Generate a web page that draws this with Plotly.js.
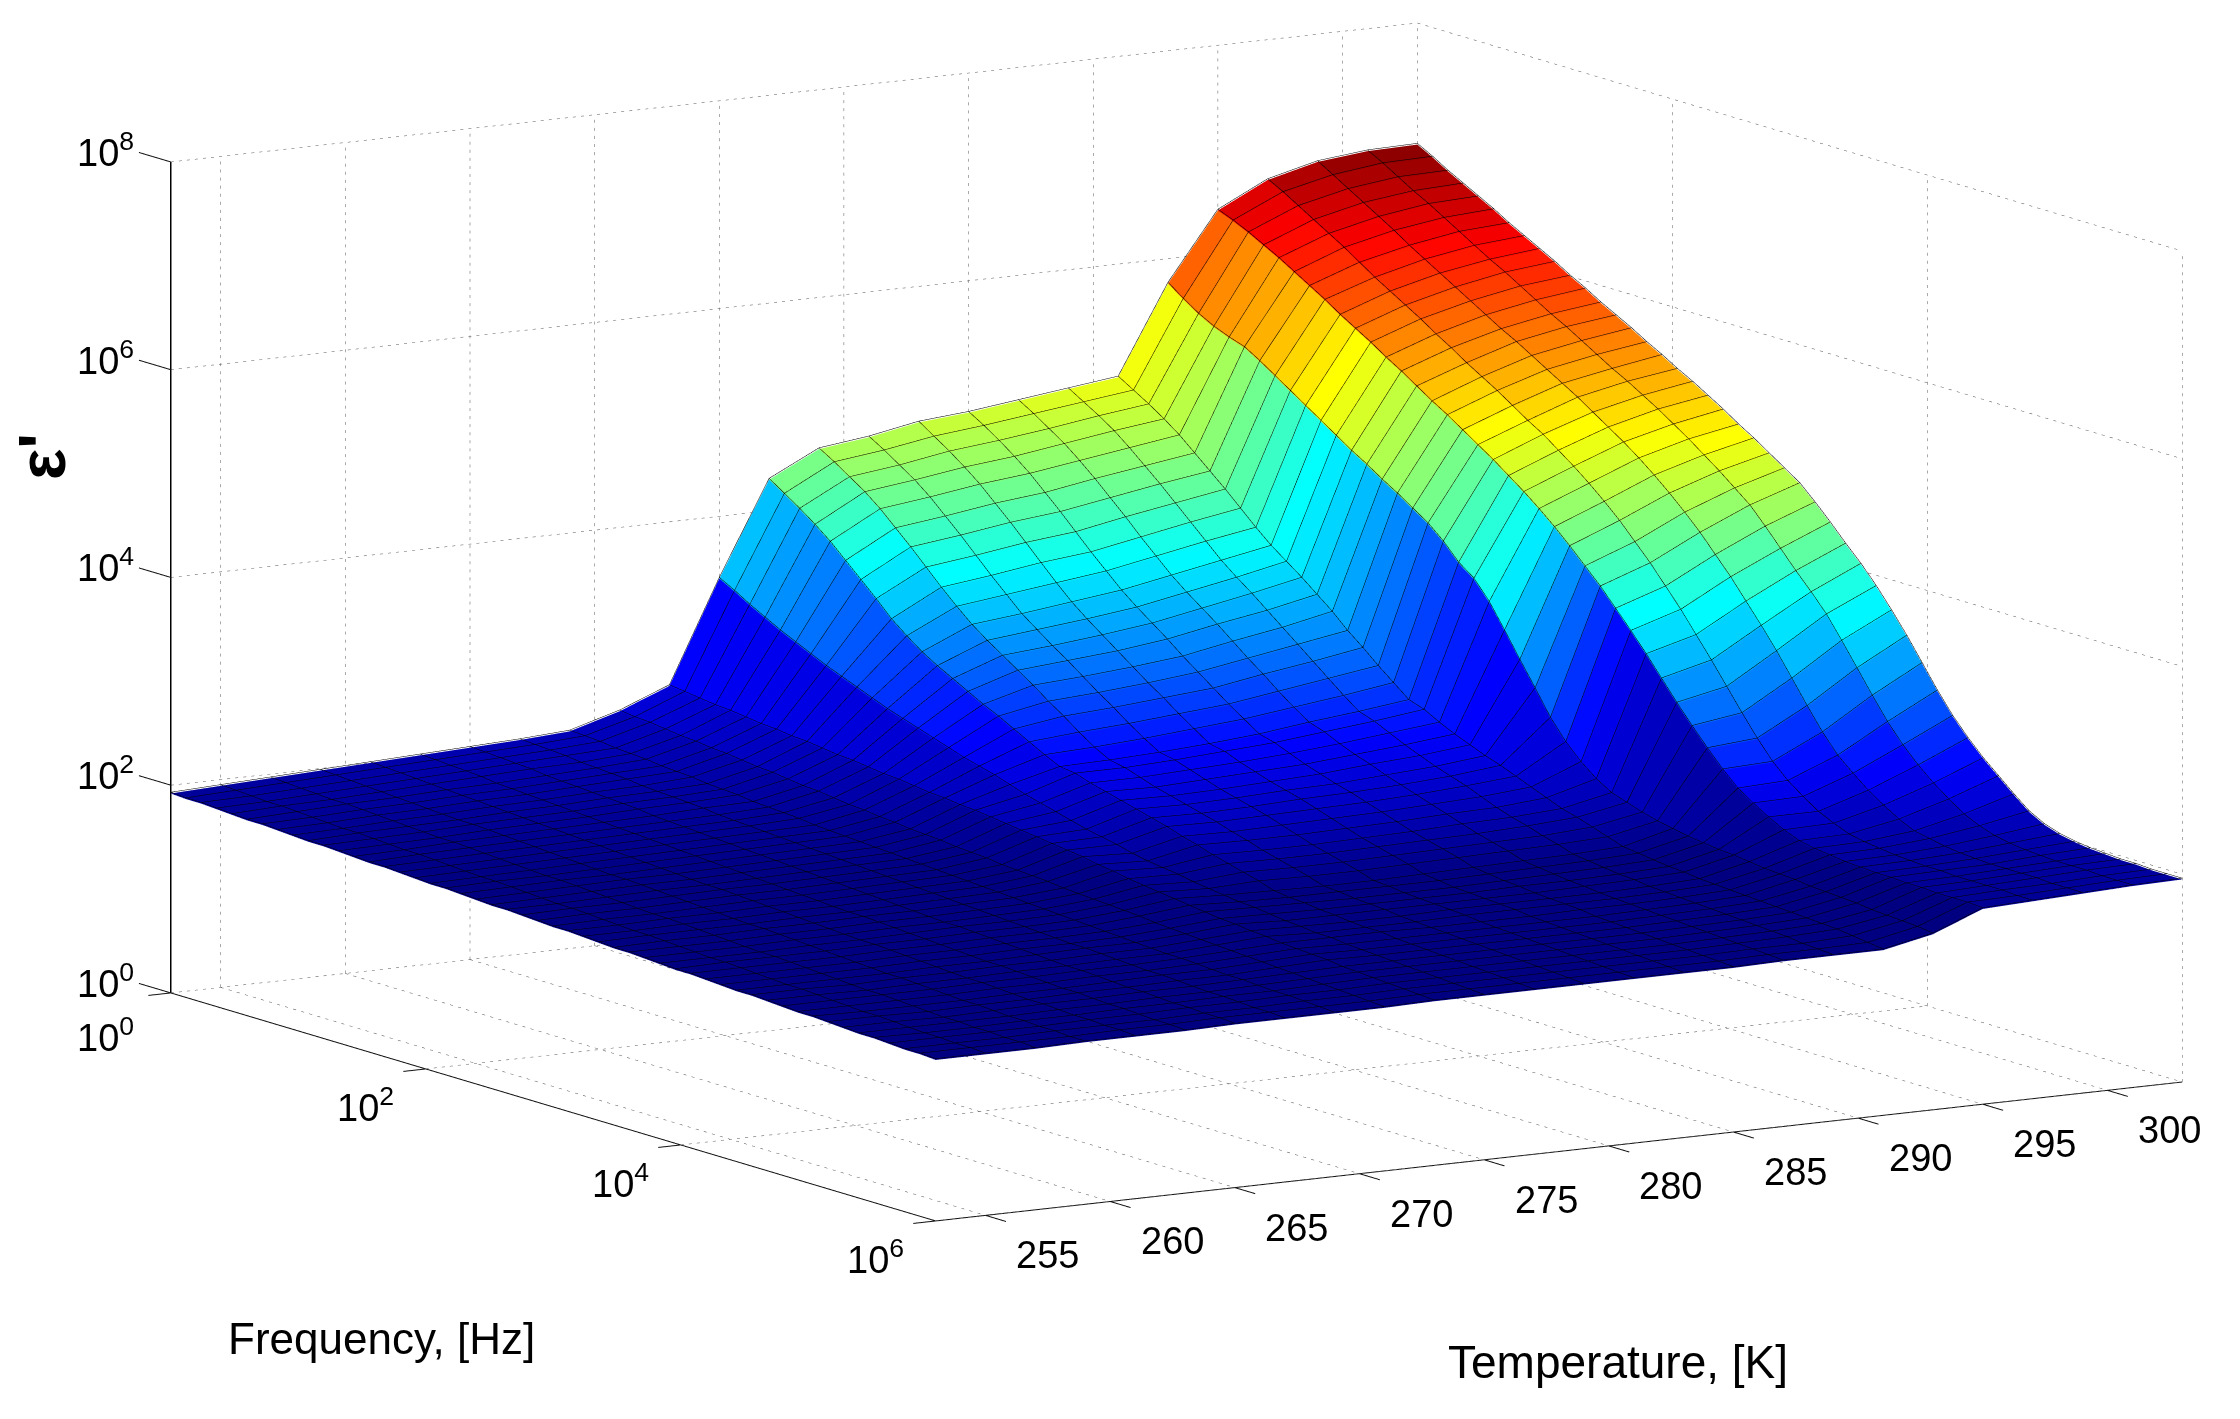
<!DOCTYPE html>
<html><head><meta charset="utf-8">
<script src="https://cdn.plot.ly/plotly-3.0.1.min.js"></script>
<style>html,body{margin:0;padding:0;background:#fff}#g{width:2240px;height:1419px}</style>
</head><body><div id="g"></div>
<script>
const temps=[253,255,257,259,261,263,265,267,269,271,273,275,277,279,281,283,285,287,289,291,293,295,297,299,301,303];
// log10 of frequency of each measured row
const logF=[0,.12,.24,.36,.48,.6,.72,.84,.96,1.08,1.2,1.32,1.44,1.56,1.68,1.8,1.92,2.04,2.16,2.28,2.4,2.52,2.64,2.76,2.88,3,3.12,3.24,3.36,3.48,3.6,3.72,3.84,3.96,4.08,4.2,4.32,4.44,4.56,4.68,4.8,4.92,5.04,5.16,5.28,5.4,5.52,5.64,5.76,5.88,6];
const tTicks=[255,260,265,270,275,280,285,290,295,300];
const fTicks=[0,2,4,6];
const zTicks=[0,2,4,6,8];
// log10 of epsilon' per temperature, one value per logF row
const z253=[1.92,1.91,1.91,1.90,1.89,1.88,1.88,1.87,1.86,1.85,1.85,1.84,1.83,1.82,1.82,1.81,1.80,1.79,1.79,1.78,1.77,1.76,1.76,1.75,1.74,1.73,1.73,1.72,1.71,1.70,1.70,1.69,1.68,1.67,1.67,1.66,1.65,1.64,1.64,1.63,1.62,1.61,1.61,1.60,1.59,1.58,1.58,1.57,1.56,1.56,1.55];
const z255=[1.94,1.93,1.92,1.91,1.91,1.90,1.89,1.88,1.87,1.87,1.86,1.85,1.84,1.84,1.83,1.82,1.81,1.80,1.80,1.79,1.78,1.77,1.76,1.76,1.75,1.74,1.73,1.72,1.72,1.71,1.70,1.69,1.68,1.68,1.67,1.66,1.65,1.64,1.64,1.63,1.62,1.61,1.60,1.60,1.59,1.58,1.57,1.57,1.56,1.56,1.55];
const z257=[1.96,1.95,1.94,1.93,1.92,1.92,1.91,1.90,1.89,1.88,1.87,1.86,1.86,1.85,1.84,1.83,1.82,1.81,1.80,1.80,1.79,1.78,1.77,1.76,1.75,1.74,1.74,1.73,1.72,1.71,1.70,1.69,1.68,1.68,1.67,1.66,1.65,1.64,1.63,1.62,1.62,1.61,1.60,1.59,1.58,1.58,1.57,1.57,1.56,1.56,1.55];
const z259=[1.98,1.97,1.96,1.95,1.94,1.93,1.92,1.91,1.90,1.89,1.89,1.88,1.87,1.86,1.85,1.84,1.83,1.82,1.81,1.80,1.80,1.79,1.78,1.77,1.76,1.75,1.74,1.73,1.72,1.72,1.71,1.70,1.69,1.68,1.67,1.66,1.65,1.64,1.64,1.63,1.62,1.61,1.60,1.60,1.59,1.58,1.58,1.57,1.57,1.56,1.56];
const z261=[2.00,1.99,1.98,1.97,1.96,1.95,1.94,1.93,1.92,1.91,1.90,1.89,1.88,1.87,1.86,1.85,1.84,1.83,1.82,1.81,1.80,1.79,1.78,1.78,1.77,1.76,1.75,1.74,1.73,1.72,1.71,1.70,1.69,1.69,1.68,1.67,1.66,1.65,1.64,1.63,1.63,1.62,1.61,1.60,1.60,1.59,1.58,1.58,1.57,1.57,1.56];
const z263=[2.02,2.01,2.00,1.99,1.98,1.96,1.95,1.94,1.93,1.92,1.91,1.90,1.89,1.88,1.87,1.86,1.85,1.84,1.83,1.82,1.81,1.80,1.79,1.78,1.77,1.76,1.75,1.74,1.73,1.73,1.72,1.71,1.70,1.69,1.68,1.67,1.66,1.65,1.65,1.64,1.63,1.62,1.61,1.61,1.60,1.59,1.59,1.58,1.57,1.57,1.56];
const z265=[2.04,2.03,2.02,2.01,2.00,1.98,1.97,1.96,1.95,1.94,1.93,1.92,1.90,1.89,1.88,1.87,1.86,1.85,1.84,1.83,1.82,1.81,1.80,1.79,1.78,1.77,1.76,1.75,1.74,1.73,1.72,1.71,1.71,1.70,1.69,1.68,1.67,1.66,1.65,1.64,1.64,1.63,1.62,1.61,1.61,1.60,1.59,1.59,1.58,1.58,1.57];
const z267=[2.06,2.05,2.04,2.03,2.01,2.00,1.99,1.98,1.96,1.95,1.94,1.93,1.92,1.90,1.89,1.88,1.87,1.86,1.85,1.84,1.83,1.82,1.81,1.80,1.79,1.78,1.77,1.76,1.75,1.74,1.73,1.72,1.71,1.70,1.69,1.68,1.67,1.67,1.66,1.65,1.64,1.63,1.63,1.62,1.61,1.60,1.60,1.59,1.58,1.58,1.57];
const z269=[2.09,2.08,2.07,2.05,2.04,2.03,2.01,2.00,1.99,1.97,1.96,1.95,1.93,1.92,1.91,1.90,1.88,1.87,1.86,1.85,1.84,1.83,1.82,1.81,1.80,1.79,1.78,1.77,1.76,1.75,1.74,1.73,1.72,1.71,1.70,1.69,1.68,1.67,1.66,1.65,1.65,1.64,1.63,1.62,1.62,1.61,1.60,1.60,1.59,1.58,1.57];
const z271=[2.23,2.21,2.20,2.18,2.16,2.15,2.13,2.12,2.10,2.08,2.07,2.05,2.03,2.02,2.00,1.98,1.97,1.95,1.94,1.92,1.91,1.90,1.88,1.87,1.86,1.84,1.83,1.82,1.81,1.79,1.78,1.77,1.76,1.75,1.74,1.72,1.71,1.70,1.69,1.68,1.67,1.66,1.65,1.64,1.63,1.62,1.61,1.60,1.59,1.58,1.57];
const z273=[2.42,2.40,2.38,2.36,2.35,2.33,2.31,2.30,2.28,2.27,2.25,2.23,2.22,2.20,2.18,2.17,2.15,2.13,2.12,2.10,2.09,2.07,2.05,2.03,2.01,1.99,1.97,1.95,1.92,1.90,1.87,1.85,1.83,1.81,1.79,1.77,1.75,1.74,1.72,1.71,1.69,1.68,1.67,1.66,1.64,1.63,1.62,1.61,1.60,1.59,1.58];
const z275=[3.40,3.32,3.23,3.15,3.07,3.00,2.93,2.86,2.80,2.74,2.68,2.62,2.57,2.52,2.47,2.42,2.37,2.33,2.29,2.24,2.19,2.15,2.11,2.07,2.03,2.00,1.97,1.93,1.90,1.88,1.86,1.83,1.81,1.79,1.77,1.76,1.74,1.72,1.71,1.69,1.69,1.67,1.66,1.65,1.64,1.63,1.62,1.61,1.60,1.59,1.58];
const z277=[4.30,4.20,4.10,3.99,3.87,3.73,3.59,3.45,3.30,3.18,3.07,2.98,2.90,2.82,2.74,2.67,2.59,2.51,2.43,2.36,2.34,2.29,2.25,2.21,2.17,2.13,2.09,2.04,2.00,1.95,1.91,1.87,1.83,1.78,1.76,1.75,1.73,1.72,1.70,1.69,1.69,1.67,1.66,1.65,1.64,1.63,1.62,1.61,1.60,1.59,1.58];
const z279=[4.54,4.45,4.35,4.25,4.13,3.99,3.85,3.70,3.55,3.41,3.28,3.17,3.07,2.97,2.87,2.76,2.66,2.55,2.45,2.37,2.34,2.29,2.24,2.20,2.16,2.12,2.08,2.03,1.99,1.94,1.90,1.86,1.82,1.77,1.76,1.74,1.73,1.72,1.70,1.69,1.68,1.67,1.66,1.65,1.64,1.63,1.62,1.61,1.60,1.59,1.58];
const z281=[4.60,4.51,4.41,4.31,4.19,4.05,3.91,3.76,3.61,3.47,3.33,3.22,3.11,3.01,2.90,2.79,2.69,2.58,2.48,2.39,2.36,2.31,2.26,2.21,2.17,2.13,2.09,2.04,1.99,1.94,1.90,1.86,1.82,1.77,1.76,1.74,1.73,1.72,1.71,1.70,1.68,1.67,1.66,1.65,1.64,1.63,1.62,1.61,1.60,1.59,1.58];
const z283=[4.69,4.59,4.49,4.38,4.26,4.12,3.98,3.83,3.68,3.53,3.39,3.27,3.16,3.05,2.94,2.83,2.73,2.62,2.52,2.42,2.39,2.33,2.28,2.23,2.19,2.15,2.10,2.05,2.00,1.95,1.91,1.87,1.83,1.78,1.76,1.74,1.73,1.72,1.71,1.70,1.68,1.67,1.66,1.65,1.64,1.63,1.62,1.61,1.60,1.59,1.58];
const z285=[4.73,4.64,4.54,4.43,4.31,4.17,4.03,3.88,3.73,3.59,3.45,3.33,3.22,3.11,2.99,2.88,2.77,2.66,2.56,2.46,2.42,2.36,2.30,2.25,2.20,2.16,2.11,2.06,2.01,1.96,1.92,1.88,1.84,1.79,1.77,1.75,1.74,1.72,1.71,1.70,1.69,1.67,1.66,1.65,1.64,1.63,1.62,1.61,1.60,1.59,1.58];
const z287=[4.79,4.70,4.60,4.50,4.38,4.25,4.11,3.97,3.82,3.68,3.54,3.42,3.31,3.20,3.08,2.96,2.85,2.73,2.62,2.52,2.47,2.40,2.34,2.29,2.23,2.18,2.13,2.08,2.03,1.98,1.93,1.89,1.85,1.80,1.78,1.76,1.74,1.73,1.71,1.70,1.69,1.68,1.67,1.66,1.65,1.64,1.63,1.62,1.61,1.60,1.59];
const z289=[4.85,4.76,4.67,4.57,4.45,4.32,4.19,4.05,3.91,3.77,3.63,3.51,3.40,3.28,3.16,3.04,2.92,2.80,2.68,2.57,2.52,2.45,2.38,2.32,2.26,2.21,2.16,2.10,2.04,1.99,1.95,1.90,1.86,1.81,1.79,1.77,1.75,1.74,1.72,1.71,1.70,1.69,1.68,1.67,1.66,1.65,1.64,1.63,1.61,1.60,1.59];
const z291=[4.91,4.82,4.73,4.63,4.52,4.39,4.26,4.13,3.99,3.85,3.72,3.61,3.50,3.38,3.26,3.12,3.00,2.87,2.75,2.63,2.58,2.50,2.43,2.37,2.31,2.26,2.20,2.14,2.08,2.02,1.98,1.93,1.88,1.83,1.81,1.79,1.77,1.76,1.74,1.73,1.72,1.71,1.70,1.69,1.68,1.67,1.66,1.65,1.63,1.61,1.59];
const z293=[5.76,5.65,5.55,5.47,5.41,5.36,5.27,5.17,5.07,4.97,4.87,4.77,4.67,4.58,4.48,4.39,4.29,4.19,4.06,3.90,3.79,3.61,3.38,3.14,2.91,2.67,2.48,2.33,2.21,2.12,2.07,2.02,1.98,1.95,1.92,1.90,1.88,1.87,1.85,1.83,1.82,1.81,1.79,1.78,1.77,1.76,1.74,1.73,1.72,1.71,1.69];
const z295=[6.41,6.35,6.28,6.20,6.12,6.03,5.94,5.85,5.75,5.66,5.57,5.47,5.38,5.28,5.18,5.09,4.99,4.89,4.79,4.68,4.57,4.45,4.32,4.18,4.03,3.88,3.71,3.54,3.36,3.17,2.98,2.80,2.63,2.47,2.33,2.23,2.14,2.06,2.00,1.97,1.95,1.93,1.92,1.91,1.91,1.90,1.90,1.89,1.89,1.89,1.88];
const z297=[6.65,6.57,6.48,6.39,6.30,6.21,6.11,6.01,5.92,5.83,5.74,5.64,5.55,5.45,5.36,5.27,5.17,5.07,4.98,4.87,4.76,4.64,4.51,4.37,4.21,4.05,3.87,3.69,3.49,3.29,3.08,2.87,2.67,2.49,2.35,2.24,2.14,2.07,2.01,1.98,1.96,1.94,1.93,1.92,1.92,1.91,1.91,1.91,1.91,1.90,1.90];
const z299=[6.77,6.68,6.59,6.50,6.41,6.32,6.22,6.13,6.04,5.95,5.86,5.77,5.68,5.60,5.51,5.42,5.33,5.24,5.14,5.04,4.94,4.83,4.71,4.58,4.44,4.29,4.12,3.95,3.76,3.57,3.37,3.15,2.93,2.72,2.54,2.41,2.29,2.19,2.10,2.03,2.00,1.97,1.95,1.94,1.93,1.93,1.93,1.93,1.92,1.92,1.92];
const z301=[6.82,6.74,6.65,6.56,6.48,6.39,6.30,6.21,6.12,6.04,5.95,5.86,5.77,5.69,5.60,5.51,5.42,5.34,5.25,5.16,5.06,4.96,4.85,4.74,4.62,4.50,4.34,4.17,4.00,3.84,3.67,3.46,3.24,3.02,2.81,2.63,2.48,2.35,2.24,2.14,2.07,2.02,1.99,1.97,1.96,1.95,1.95,1.95,1.94,1.94,1.94];
const z303=[6.83,6.75,6.66,6.58,6.50,6.42,6.33,6.25,6.17,6.09,6.00,5.92,5.83,5.75,5.67,5.58,5.50,5.41,5.33,5.24,5.15,5.05,4.96,4.86,4.76,4.66,4.52,4.37,4.21,4.06,3.89,3.70,3.50,3.28,3.06,2.86,2.69,2.54,2.41,2.28,2.16,2.08,2.03,2.00,1.98,1.97,1.96,1.96,1.95,1.95,1.95];
const columns=[z253,z255,z257,z259,z261,z263,z265,z267,z269,z271,z273,z275,z277,z279,z281,z283,z285,z287,z289,z291,z293,z295,z297,z299,z301,z303];

const jet=[[0,'rgb(0,0,128)'],[.125,'rgb(0,0,255)'],[.375,'rgb(0,255,255)'],[.625,'rgb(255,255,0)'],[.875,'rgb(255,0,0)'],[1,'rgb(128,0,0)']];
const T0=temps[0],T1=temps[temps.length-1],F0=fTicks[0],F1=fTicks[fTicks.length-1],Z0=zTicks[0],Z1=zTicks[zTicks.length-1];

// surface facets, flat coloured by their low-index corner
const vx=[],vy=[],vz=[],I=[],J=[],K=[],cell=[];
const nT=temps.length,nF=logF.length,id=(a,b)=>a*nF+b;
temps.forEach((t,a)=>logF.forEach((f,b)=>{vx.push(t);vy.push(f);vz.push(columns[a][b]);}));
for(let a=0;a<nT-1;a++)for(let b=0;b<nF-1;b++){
  I.push(id(a,b),id(a,b));J.push(id(a+1,b),id(a+1,b+1));K.push(id(a+1,b+1),id(a,b+1));
  cell.push(columns[a][b],columns[a][b]);
}
const surf={type:'mesh3d',x:vx,y:vy,z:vz,i:I,j:J,k:K,intensity:cell,intensitymode:'cell',colorscale:jet,cmin:1.78,cmax:6.9,showscale:false,flatshading:true,
  lighting:{ambient:1,diffuse:0,specular:0,roughness:1,fresnel:0},hoverinfo:'skip'};

// facet edges
const lift=0.012,ex=[],ey=[],ez=[];
temps.forEach((t,a)=>{logF.forEach((f,b)=>{ex.push(t);ey.push(f);ez.push(columns[a][b]+lift);});ex.push(null);ey.push(null);ez.push(null);});
logF.forEach((f,b)=>{temps.forEach((t,a)=>{ex.push(t);ey.push(f);ez.push(columns[a][b]+lift);});ex.push(null);ey.push(null);ez.push(null);});
const edges={type:'scatter3d',mode:'lines',x:ex,y:ey,z:ez,line:{color:'#000',width:1},hoverinfo:'skip',showlegend:false};

function path(segs,color,width){
  const x=[],y=[],z=[];
  segs.forEach(s=>{x.push(s[0],s[3],null);y.push(s[1],s[4],null);z.push(s[2],s[5],null);});
  return {type:'scatter3d',mode:'lines',x,y,z,line:{color,width},hoverinfo:'skip',showlegend:false};
}
// dotted grid on back walls and floor: each grid line is cut into short dashes
const gridLines=[];
const tAll=tTicks.concat([T1]);
tAll.forEach(t=>{gridLines.push([t,F0,Z0,t,F0,Z1]);gridLines.push([t,F0,Z0,t,F1,Z0]);});
fTicks.forEach(f=>{gridLines.push([T1,f,Z0,T1,f,Z1]);gridLines.push([T0,f,Z0,T1,f,Z0]);});
zTicks.forEach(z=>{gridLines.push([T0,F0,z,T1,F0,z]);gridLines.push([T1,F0,z,T1,F1,z]);});
const pxPerT=24.92,pxPerF=127.5,pxPerZ=103.9,dotPeriod=8,dotLen=3;
const dots=[];
gridLines.forEach(s=>{
  const len=Math.hypot((s[3]-s[0])*pxPerT,(s[4]-s[1])*pxPerF,(s[5]-s[2])*pxPerZ);
  const n=Math.floor(len/dotPeriod);
  for(let k=0;k<n;k++){
    const a=k/n,b=(k+dotLen/dotPeriod)/n;
    dots.push([s[0]+(s[3]-s[0])*a,s[1]+(s[4]-s[1])*a,s[2]+(s[5]-s[2])*a,s[0]+(s[3]-s[0])*b,s[1]+(s[4]-s[1])*b,s[2]+(s[5]-s[2])*b]);
  }
});
// solid axis lines and ticks
const axisFront=[[T0,F0,Z0,T0,F1,Z0],[T0,F1,Z0,T1,F1,Z0]];
const axisZ=[[T0,F0,Z0,T0,F0,Z1]];
const tickLenZ=.25,tickLenT=.16,tickLenF=.9;
zTicks.forEach(z=>axisFront.push([T0,F0,z,T0,F0-tickLenZ,z]));
tTicks.forEach(t=>axisFront.push([t,F1,Z0,t,F1+tickLenT,Z0]));
fTicks.forEach(f=>axisFront.push([T0,f,Z0,T0-tickLenF,f,Z0]));

const fam='Liberation Sans, Arial, sans-serif';
const sup=n=>'10<sup>'+n+'</sup>';
const tickFont={family:fam,size:38,color:'#000'};
const anns=[];
const lab=(x,y,z,text,dx,dy)=>anns.push({x,y,z,text,showarrow:false,xshift:dx,yshift:dy,font:tickFont,xanchor:'center',yanchor:'middle'});
zTicks.forEach(z=>lab(T0,F0,z,sup(z),-65,12));
fTicks.forEach(f=>f===0?lab(T0,f,Z0,sup(f),-65,-42):lab(T0,f,Z0,sup(f),-60,-36));
tTicks.forEach(t=>lab(t,F1,Z0,String(t),62,-40));

const axisOff={visible:false,showgrid:false,zeroline:false,showline:false,showticklabels:false,showspikes:false,showbackground:false};
const W=2240,H=1419,R=1.75,S=2.443;
const labelFont=size=>({family:fam,size,color:'#000'});
const layout={width:W,height:H,margin:{l:0,r:0,t:0,b:0},paper_bgcolor:'#fff',showlegend:false,
  scene:{domain:{x:[.0504,1],y:[.1234,1]},
    aspectmode:'manual',aspectratio:{x:S,y:1.0614*S,z:.584*S},
    camera:{projection:{type:'orthographic'},up:{x:0,y:0,z:1},center:{x:0,y:0,z:0},eye:{x:-.513*R,y:-.839*R,z:.1823*R}},
    xaxis:Object.assign({range:[252,304]},axisOff),
    yaxis:Object.assign({range:[6.3,-.3]},axisOff),
    zaxis:Object.assign({range:[-.2,8.2]},axisOff),
    annotations:anns},
  annotations:[
    {xref:'paper',yref:'paper',x:381/W,y:1-1338/H,xanchor:'center',yanchor:'middle',text:'Frequency, [Hz]',showarrow:false,font:labelFont(44)},
    {xref:'paper',yref:'paper',x:1618/W,y:1-1362/H,xanchor:'center',yanchor:'middle',text:'Temperature, [K]',showarrow:false,font:labelFont(46)},
    {xref:'paper',yref:'paper',x:42/W,y:1-457/H,xanchor:'center',yanchor:'middle',text:"<b>ε'</b>",textangle:-90,showarrow:false,font:labelFont(66)}
  ]};
Plotly.newPlot('g',[path(dots,'#555',1),path(axisFront,'#111',2),path(axisZ,'#000',3),surf,edges],layout,{displayModeBar:false});
</script></body></html>
